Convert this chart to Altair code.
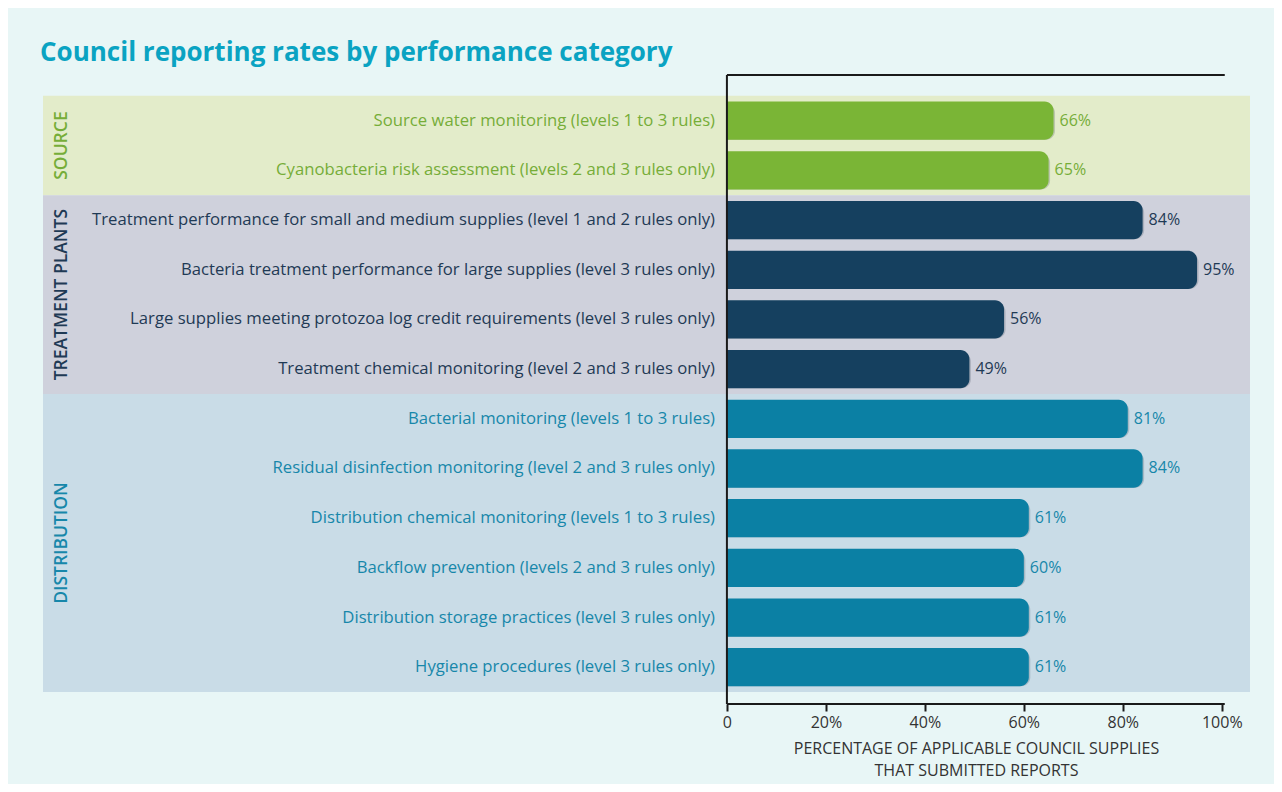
import altair as alt
import pandas as pd

# ---------------- data ----------------
categories = [
    "Source water monitoring (levels 1 to 3 rules)",
    "Cyanobacteria risk assessment (levels 2 and 3 rules only)",
    "Treatment performance for small and medium supplies (level 1 and 2 rules only)",
    "Bacteria treatment performance for large supplies (level 3 rules only)",
    "Large supplies meeting protozoa log credit requirements (level 3 rules only)",
    "Treatment chemical monitoring (level 2 and 3 rules only)",
    "Bacterial monitoring (levels 1 to 3 rules)",
    "Residual disinfection monitoring (level 2 and 3 rules only)",
    "Distribution chemical monitoring (levels 1 to 3 rules)",
    "Backflow prevention (levels 2 and 3 rules only)",
    "Distribution storage practices (level 3 rules only)",
    "Hygiene procedures (level 3 rules only)",
]
groups = [
    "SOURCE", "SOURCE",
    "TREATMENT PLANTS", "TREATMENT PLANTS", "TREATMENT PLANTS", "TREATMENT PLANTS",
    "DISTRIBUTION", "DISTRIBUTION", "DISTRIBUTION", "DISTRIBUTION", "DISTRIBUTION", "DISTRIBUTION",
]
values = [66, 65, 84, 95, 56, 49, 81, 84, 61, 60, 61, 61]
group_names = ["SOURCE", "TREATMENT PLANTS", "DISTRIBUTION"]
tick_values = [0, 20, 40, 60, 80, 100]
title_text = "Council reporting rates by performance category"
axis_title = ["PERCENTAGE OF APPLICABLE COUNCIL SUPPLIES", "THAT SUBMITTED REPORTS"]

# ---------------- styles ----------------
bar_colors = ["#7ab536", "#15405f", "#0b80a4"]
label_colors = ["#76ad38", "#1f3a55", "#1787aa"]
band_colors = ["#e3ecca", "#cfd1dc", "#c9dce7"]
FONT = "Open Sans"

df = pd.DataFrame({"label": categories, "group": groups, "value": values,
                   "row": list(range(len(categories)))})
rows_by_group = [[i for i, g in enumerate(groups) if g == name] for name in group_names]
gdf = pd.DataFrame({"group": group_names,
                    "start": [r[0] for r in rows_by_group],
                    "end": [r[-1] for r in rows_by_group]})

XMIN, XMAX = -138.2, 105.7
YTOP, YBOT = -0.92, 11.74
W, H = 1207, 629

xs = alt.Scale(domain=[XMIN, XMAX], nice=False, zero=False)
ys = alt.Scale(domain=[YTOP, YBOT], nice=False, zero=False, reverse=True)

x_axis = alt.Axis(
    values=tick_values, domain=False, grid=False,
    ticks=True, tickColor="#1a1a1a", tickWidth=2, tickSize=7,
    labelExpr="datum.value == 0 ? '0' : datum.value + '%'",
    labelFont=FONT, labelFontSize=16, labelColor="#333333", labelPadding=3,
    labelFlush=False, labelOverlap=False,
    title=axis_title, titleFont=FONT, titleFontSize=16, titleFontWeight="normal",
    titleColor="#333333", titleX=933, titleY=36, titleAlign="center",
    titleBaseline="top", titleLineHeight=22, titleAnchor="start",
)

bar_scale = alt.Scale(domain=group_names, range=bar_colors)
lab_scale = alt.Scale(domain=group_names, range=label_colors)
band_scale = alt.Scale(domain=group_names, range=band_colors)

bands = alt.Chart(gdf).transform_calculate(
    y0="datum.start - 0.5", y1="datum.end + 0.5", xa=str(XMIN), xb=str(XMAX)
).mark_rect().encode(
    x=alt.X("xa:Q", scale=xs, axis=x_axis),
    x2="xb:Q",
    y=alt.Y("y0:Q", scale=ys, axis=None),
    y2="y1:Q",
    fill=alt.Fill("group:N", scale=band_scale, legend=None),
)

bar_base = alt.Chart(df).transform_calculate(
    y0="datum.row - 0.385", y1="datum.row + 0.385"
)

shadow = bar_base.mark_bar(
    color="#0d1d2b", opacity=0.18, xOffset=1.5, yOffset=2.5,
    cornerRadiusTopRight=9, cornerRadiusBottomRight=9,
).encode(
    x=alt.X("value:Q", scale=xs, axis=x_axis),
    x2=alt.datum(0),
    y=alt.Y("y0:Q", scale=ys, axis=None),
    y2="y1:Q",
)

bars = bar_base.mark_bar(
    cornerRadiusTopRight=9, cornerRadiusBottomRight=9,
).encode(
    x=alt.X("value:Q", scale=xs, axis=x_axis),
    x2=alt.datum(0),
    y=alt.Y("y0:Q", scale=ys, axis=None),
    y2="y1:Q",
    color=alt.Color("group:N", scale=bar_scale, legend=None),
)

row_labels = alt.Chart(df).mark_text(
    align="right", baseline="middle", font=FONT, fontSize=16.7
).encode(
    x=alt.datum(-2.4),
    y=alt.Y("row:Q", scale=ys, axis=None),
    text="label:N",
    color=alt.Color("group:N", scale=lab_scale, legend=None),
)

value_labels = alt.Chart(df).transform_calculate(
    txt="datum.value + '%'"
).mark_text(
    align="left", baseline="middle", font=FONT, fontSize=16, dx=6
).encode(
    x=alt.X("value:Q", scale=xs, axis=x_axis),
    y=alt.Y("row:Q", scale=ys, axis=None),
    text="txt:N",
    color=alt.Color("group:N", scale=lab_scale, legend=None),
)

group_labels = alt.Chart(gdf).transform_calculate(
    mid="(datum.start + datum.end) / 2"
).mark_text(
    angle=270, align="center", baseline="middle", font=FONT, fontSize=17.5,
    fontWeight=600,
).encode(
    x=alt.datum(-134.3),
    y=alt.Y("mid:Q", scale=ys, axis=None),
    text="group:N",
    color=alt.Color("group:N", scale=lab_scale, legend=None),
)

line_df = pd.DataFrame({"k": [0]})
top_rule = alt.Chart(line_df).mark_rule(color="#1a1a1a", strokeWidth=2).encode(
    x=alt.datum(0), x2=alt.datum(100.6), y=alt.value(0)
)
left_rule = alt.Chart(line_df).mark_rule(color="#1a1a1a", strokeWidth=2).encode(
    x=alt.datum(0), y=alt.value(0), y2=alt.value(H)
)
bottom_rule = alt.Chart(line_df).mark_rule(color="#1a1a1a", strokeWidth=2).encode(
    x=alt.datum(0), x2=alt.datum(100.6), y=alt.value(H)
)

chart = alt.layer(
    bands, shadow, bars, row_labels, value_labels, group_labels,
    top_rule, left_rule, bottom_rule,
).resolve_scale(
    color="independent", fill="independent"
).properties(
    width=W, height=H,
    padding={"left": 35, "top": 67, "right": 24, "bottom": 80},
    autosize=alt.AutoSizeParams(type="none"),
    background="#e8f6f6",
    title=alt.Title(title_text, anchor="start", font=FONT, fontSize=26,
                    fontWeight="bold", color="#0aa3c2", dx=-3, offset=8),
).configure_view(stroke=None)

chart.save("out.html", embed_options={"renderer": "svg", "actions": False})
